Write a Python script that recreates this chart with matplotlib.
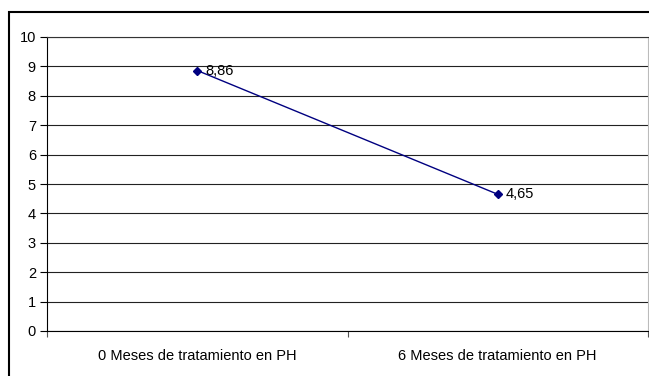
import matplotlib
matplotlib.use('Agg')
import matplotlib.pyplot as plt
from matplotlib.patches import Rectangle

plt.rcParams['font.family'] = ['Liberation Sans', 'DejaVu Sans']

categorias = ['0 Meses de tratamiento en PH', '6 Meses de tratamiento en PH']
valores = [8.86, 4.65]
etiquetas = ['8,86', '4,65']

fig = plt.figure(figsize=(6.49, 3.76), dpi=100)
W, H = 649, 376

# marco exterior del grafico
fig.patches.append(Rectangle((8.5 / W, -0.2), 1.2, 1.2 - 11.5 / H,
                             transform=fig.transFigure, fill=False,
                             edgecolor='black', linewidth=1.5))

ax = fig.add_axes([47 / W, 45 / H, 601 / W, 294 / H])
x = [0.5, 1.5]
ax.plot(x, valores, color='#000080', linewidth=1.0, marker='D',
        markersize=4.5, zorder=3)
for xi, v, t in zip(x, valores, etiquetas):
    ax.annotate(t, (xi, v), xytext=(6, 0), textcoords='offset points',
                va='center', ha='left', fontsize=10.5)

ax.set_xlim(0, 2)
ax.set_ylim(0, 10)
ax.set_yticks(range(0, 11))
ax.set_xticks([0, 1, 2])
ax.set_xticklabels([])
ax.set_xticks(x, minor=True)
ax.set_xticklabels(categorias, minor=True, fontsize=10.5)
ax.tick_params(axis='x', which='minor', length=0, pad=13)
ax.tick_params(axis='x', which='major', length=4, color='#555555')
ax.tick_params(axis='y', length=5, labelsize=10.5, pad=3)
ax.grid(axis='y', color='#222222', linewidth=0.8)
ax.set_axisbelow(True)

ax.spines['top'].set_color('#333333')
ax.spines['right'].set_color('#bbbbbb')
ax.spines['left'].set_color('black')
ax.spines['bottom'].set_color('black')

fig.savefig('out.png', dpi=100)
